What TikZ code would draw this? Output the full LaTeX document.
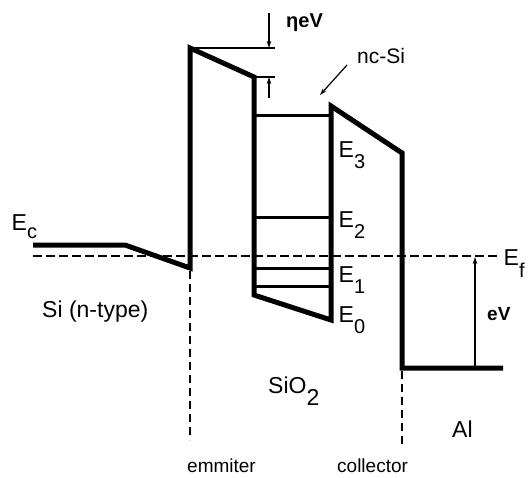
\documentclass[tikz,border=0pt]{standalone}
\usepackage{fontspec}
\setmainfont{Liberation Sans}
\usetikzlibrary{arrows.meta}
\newcommand{\Esub}[1]{E\raisebox{-11pt}{\fontsize{20}{20}\selectfont #1}}

\begin{document}
\begin{tikzpicture}[x=1pt,y=-1pt,
    band/.style={line width=5pt,line join=miter},
    level/.style={line width=3pt},
    fermi/.style={line width=1.6pt,dash pattern=on 9pt off 4pt},
    guide/.style={line width=1.4pt,dash pattern=on 8pt off 5pt},
    rule/.style={line width=1.2pt},
    tip/.style={-{Stealth[length=7pt,width=4.5pt]},line width=1.2pt},
    every node/.style={inner sep=0pt,anchor=base west,font=\fontsize{23}{23}\selectfont}]
  \useasboundingbox (0,0) rectangle (532,477);
  % band profile
  \coordinate (c0) at (33,245);
  \coordinate (c1) at (125,245);
  \coordinate (eb) at (190,268);
  \coordinate (et) at (190,48);
  \coordinate (er) at (254,77);
  \coordinate (wl) at (254,295);
  \coordinate (wr) at (331,320);
  \coordinate (ct) at (331,106);
  \coordinate (cr) at (402,153);
  \coordinate (cb) at (402,368);
  \coordinate (al) at (503,368);
  \draw[band] (c0) -- (c1) -- (eb) -- (et) -- (er) -- (wl) -- (wr) -- (ct) -- (cr) -- (cb) -- (al);
  \foreach \y in {115,217,268,286} {\draw[level] (254,\y) -- (331,\y);}
  % Fermi level and guides
  \coordinate (f0) at (33,256);
  \coordinate (f1) at (498,256);
  \draw[fermi] (f0) -- (f1);
  \draw[guide] (190,271) -- (190,440);
  \draw[guide] (402,371) -- (402,445);
  % eta eV
  \coordinate (h0) at (275,48);
  \coordinate (h1) at (275,77);
  \draw[rule] (et) -- (h0);
  \draw[rule] (er) -- (h1);
  \draw[tip] (269,13) -- (269,48);
  \draw[tip] (269,98) -- (269,77);
  % pointer and bias
  \coordinate (ns) at (347,65);
  \coordinate (ne) at (320,95);
  \draw[tip] (ns) -- (ne);
  \coordinate (v0) at (475,257);
  \coordinate (v1) at (475,367);
  \draw[tip,{Stealth[length=7pt,width=4.5pt]}-] (v0) -- (v1);
  % labels
  \node (ec) at (11.5,230) {E\raisebox{-8pt}{\fontsize{20}{20}\selectfont c}};
  \node (ef) at (503.5,265) {E\raisebox{-12pt}{\fontsize{20}{20}\selectfont f}};
  \node (e3) at (338.5,157) {\Esub{3}};
  \node (e2) at (338.5,227) {\Esub{2}};
  \node (e1) at (338.5,282) {\Esub{1}};
  \node (e0) at (338.5,322) {\Esub{0}};
  \node (si) at (42,317) {Si (n-type)};
  \node (sio) at (268,393) {SiO\raisebox{-12pt}{2}};
  \node (alu) at (452,437) {Al};
  \node[font=\fontsize{19}{19}\selectfont] (em) at (187,472) {emmiter};
  \node[font=\fontsize{19}{19}\selectfont] (col) at (337,472) {collector};
  \node[font=\fontsize{21}{21}\selectfont] (nc) at (357,63) {nc-Si};
  \node[font=\fontsize{20}{20}\selectfont\bfseries] (eta) at (286,27) {ηeV};
  \node[font=\fontsize{19}{19}\selectfont\bfseries] (ev) at (487,320) {eV};
\end{tikzpicture}
\end{document}
